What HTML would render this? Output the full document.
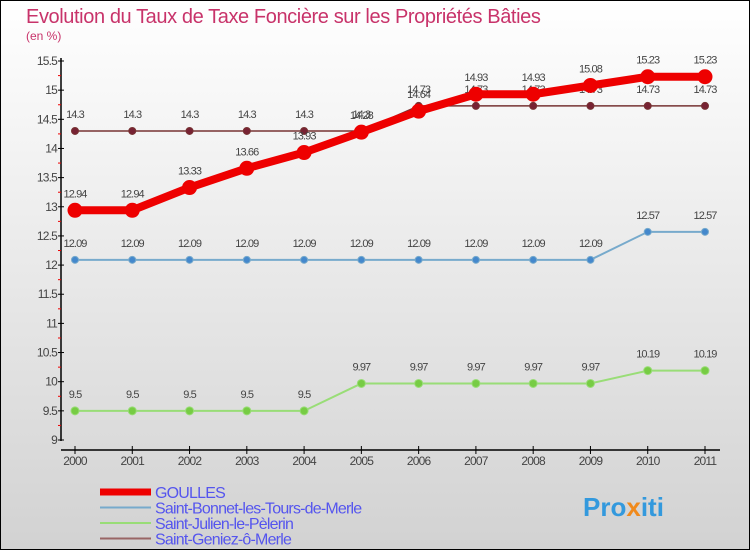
<!DOCTYPE html>
<html><head><meta charset="utf-8"><style>
html,body{margin:0;padding:0}
body{width:750px;height:550px;overflow:hidden;font-family:"Liberation Sans",sans-serif}
</style></head><body>
<svg id="chart" width="750" height="550" xmlns="http://www.w3.org/2000/svg">
<defs><linearGradient id="bg" x1="0" y1="0" x2="0" y2="1"><stop offset="0" stop-color="#ffffff"/><stop offset="1" stop-color="#d2d2d2"/></linearGradient></defs>
<rect x="0.5" y="0.5" width="749" height="549" fill="url(#bg)" stroke="#000"/>
<text x="26" y="23" font-size="20" fill="#c8336a" letter-spacing="-0.4">Evolution du Taux de Taxe Foncière sur les Propriétés Bâties</text>
<text x="26" y="40" font-size="12" fill="#c8336a">(en %)</text>
<g id="axes"></g><g id="series"></g><g id="legend"></g>
<text x="583" y="516" font-size="26" font-weight="bold" fill="#3399dd">Pro<tspan fill="#f08a1c">x</tspan>iti</text>
</svg>
<script>
const years=[2000,2001,2002,2003,2004,2005,2006,2007,2008,2009,2010,2011];
const yTicks=[9,9.5,10,10.5,11,11.5,12,12.5,13,13.5,14,14.5,15,15.5];
const goulles=[12.94,12.94,13.33,13.66,13.93,14.28,14.64,14.93,14.93,15.08,15.23,15.23];
const bonnet=[12.09,12.09,12.09,12.09,12.09,12.09,12.09,12.09,12.09,12.09,12.57,12.57];
const julien=[9.5,9.5,9.5,9.5,9.5,9.97,9.97,9.97,9.97,9.97,10.19,10.19];
const geniez=[14.3,14.3,14.3,14.3,14.3,14.3,14.73,14.73,14.73,14.73,14.73,14.73];
const seriesNames=["GOULLES","Saint-Bonnet-les-Tours-de-Merle","Saint-Julien-le-Pèlerin","Saint-Geniez-ô-Merle"];
const NS="http://www.w3.org/2000/svg";
const x=i=>75+i*(630/11);
const y=v=>440-(v-9)*(379/6.5);
function mk(tag,attrs,parent,text){const e=document.createElementNS(NS,tag);for(const k in attrs)e.setAttribute(k,attrs[k]);if(text!==undefined)e.textContent=text;parent.appendChild(e);return e;}
const ax=document.getElementById('axes');
let e=mk('line',{x1:61,y1:58,x2:61,y2:441,stroke:'#000','stroke-width':1.5},ax);


e=mk('line',{x1:61,y1:450,x2:720,y2:450,stroke:'#000','stroke-width':1.5},ax);


yTicks.forEach(t=>{
 const yy=y(t);
 mk('line',{x1:58,y1:yy,x2:64,y2:yy,stroke:'#000'},ax);
 if(t>9) mk('line',{x1:58,y1:yy+14.6,x2:61,y2:yy+14.6,stroke:'#e00'},ax);
 const l=mk('text',{x:57,y:yy+4,'font-size':12,fill:'#444','text-anchor':'end','letter-spacing':'-0.8'},ax,String(t));
 
 
});
years.forEach((yr,i)=>{
 mk('line',{x1:x(i),y1:446,x2:x(i),y2:454,stroke:'#000'},ax);
 const l=mk('text',{x:x(i),y:465,'font-size':12,fill:'#444','text-anchor':'middle','letter-spacing':'-0.8'},ax,String(yr));
 
 
});
const sg=document.getElementById('series');
function draw(vals,color,w,r,name,dot){
 const g=mk('g',{},sg);
 
 
 mk('polyline',{points:vals.map((v,i)=>x(i)+','+y(v)).join(' '),fill:'none',stroke:color,'stroke-width':w,'stroke-linejoin':'round'},g);
 vals.forEach((v,i)=>{
  const c=mk('circle',{cx:x(i),cy:y(v),r:r,fill:dot,stroke:color,'stroke-width':1},g);
  
  
  const t=mk('text',{x:x(i),y:y(v)-13,'font-size':11,fill:'#444','text-anchor':'middle','letter-spacing':'-0.9'},g,String(v));
  
  
 });
}
draw(julien,'#99dd77',2,4,'julien-series','#77cc44');
draw(bonnet,'#77aacc',2,3.5,'bonnet-series','#4488cc');
draw(geniez,'#773333',1.5,3.5,'geniez-series','#772233');
draw(goulles,'#ee0000',8,7,'goulles-series','#ee0000');
const lg=document.getElementById('legend');
const lc=['#ee0000','#77aacc','#99dd77','#996666'],lw=[7,2,2,2];
seriesNames.forEach((n,i)=>{
 const yy=492+i*15.5;
 const g=mk('g',{},lg);
 
 
 mk('line',{x1:100,y1:yy,x2:151,y2:yy,stroke:lc[i],'stroke-width':lw[i]},g);
 mk('text',{x:155,y:yy+6,'font-size':16,fill:'#5555ee','letter-spacing':'-0.8'},g,n);
});
</script>
</body></html>
